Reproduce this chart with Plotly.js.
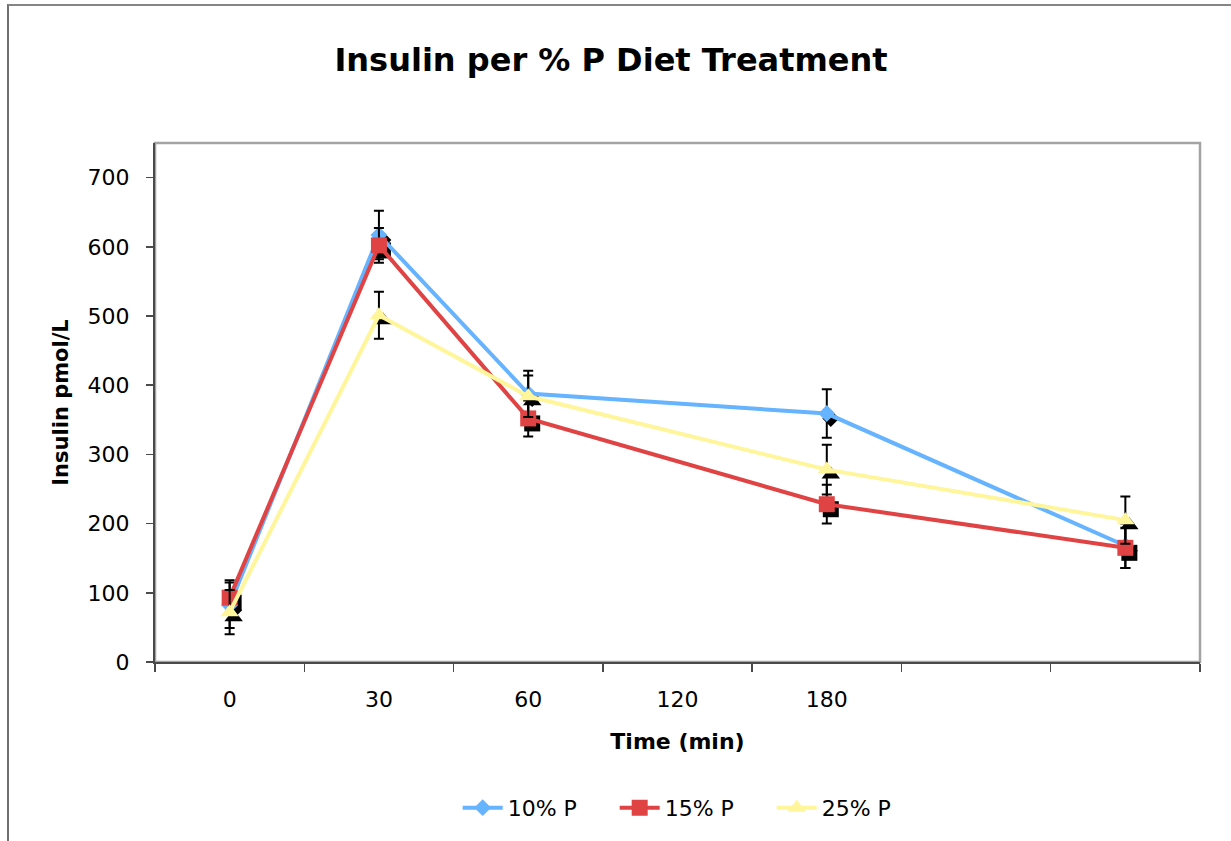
<!DOCTYPE html>
<html>
<head>
<meta charset="utf-8">
<script src="https://cdn.plot.ly/plotly-3.0.1.min.js"></script>
<style>
  html, body { margin: 0; padding: 0; background: #fff; }
  #chart { position: absolute; left: 0; top: 0; width: 1231px; height: 841px; }
  #frame {
    position: absolute; left: 7px; top: 4px; width: 1240px; height: 850px;
    border-top: 2px solid #858585; border-left: 2px solid #707070;
    pointer-events: none; z-index: 2;
  }
</style>
</head>
<body>
<div id="chart"></div>
<div id="frame"></div>
<script>
// Category slots on the time axis and the labels printed under them
const tickLabels = ['0', '30', '60', '120', '180', '', ''];
const slots = [0, 1, 2, 4, 6];

// Mean insulin (pmol/L) per diet group, with error bar half-widths
const p10 = [82, 617, 388, 359, 168];
const p10Err = [33, 35, 33, 35, 32];
const p15 = [93, 602, 352, 228, 165];
const p15Err = [25, 25, 26, 28, 29];
const p25 = [72, 501, 384, 278, 205];
const p25Err = [32, 34, 30, 36, 34];

const seriesNames = ['10% P', '15% P', '25% P'];
const seriesValues = [p10, p15, p25];
const seriesErrors = [p10Err, p15Err, p25Err];
const seriesColors = ['#66b3ff', '#e04343', '#fff59a'];
const seriesSymbols = ['diamond', 'square', 'triangle-up'];
const seriesSizes = [13, 16, 16];

const W = 1231, H = 841;
const margin = { l: 155, r: 31, t: 143, b: 179, pad: 0 };
const plotW = W - margin.l - margin.r;
const plotH = H - margin.t - margin.b;
const yMax = 750;
const xLo = -0.5, xHi = tickLabels.length - 0.5;

// Drop shadow behind the markers: a hidden axis pair shifted a few pixels
const shadowPx = { x: 4, y: 5 };
const sdx = shadowPx.x * (xHi - xLo) / plotW;
const sdy = shadowPx.y * yMax / plotH;

const font = 'DejaVu Sans, Verdana, sans-serif';
const traces = [];

seriesValues.forEach((vals, i) => {
  traces.push({
    x: slots, y: vals, xaxis: 'x', yaxis: 'y',
    type: 'scatter', mode: 'markers', showlegend: false, hoverinfo: 'skip',
    marker: { symbol: seriesSymbols[i], size: seriesSizes[i], color: '#000' }
  });
});

seriesValues.forEach((vals, i) => {
  traces.push({
    x: slots, y: vals, xaxis: 'x2', yaxis: 'y2',
    name: seriesNames[i], type: 'scatter', mode: 'lines+markers',
    line: { color: seriesColors[i], width: 4 },
    marker: { symbol: seriesSymbols[i], size: seriesSizes[i], color: seriesColors[i] },
    error_y: { type: 'data', array: seriesErrors[i], color: '#000', thickness: 2, width: 5 }
  });
});

const boundaryTicks = [];
for (let k = 0; k <= tickLabels.length; k++) boundaryTicks.push(xLo + k);

const layout = {
  width: W, height: H,
  margin: margin,
  paper_bgcolor: '#fff', plot_bgcolor: '#fff',
  font: { family: font, color: '#000', size: 22 },
  title: {
    text: '<b>Insulin per % P Diet Treatment</b>',
    font: { family: font, size: 32, color: '#000' },
    x: 611 / W, xanchor: 'center', xref: 'container',
    y: 1 - 60 / H, yanchor: 'middle', yref: 'container'
  },
  showlegend: true,
  legend: {
    orientation: 'h', x: 0.515, xanchor: 'center', y: -0.281, yanchor: 'middle',
    font: { family: font, size: 22, color: '#000' },
    traceorder: 'normal', itemwidth: 40,
    entrywidth: 102, entrywidthmode: 'pixels'
  },
  xaxis: {
    range: [xLo - sdx, xHi - sdx], visible: false, fixedrange: true
  },
  yaxis: {
    range: [sdy, yMax + sdy], visible: false, fixedrange: true
  },
  xaxis2: {
    overlaying: 'x', side: 'bottom', anchor: 'y2',
    range: [xLo, xHi], showgrid: false, zeroline: false,
    showline: true, linecolor: '#4a4a4a', linewidth: 2,
    tickmode: 'array', tickvals: tickLabels.map((_, k) => k), ticktext: tickLabels,
    ticks: '', ticklabelstandoff: 17,
    tickfont: { family: font, size: 22, color: '#000' },
    minor: { tickmode: 'array', tickvals: boundaryTicks, ticks: 'outside', ticklen: 8, tickcolor: '#4a4a4a', tickwidth: 1.5, showgrid: false },
    title: { text: '<b>Time (min)</b>', font: { family: font, size: 22, color: '#000' }, standoff: 22 }
  },
  yaxis2: {
    overlaying: 'y', side: 'left', anchor: 'x2',
    range: [0, yMax], showgrid: false, zeroline: false,
    showline: true, linecolor: '#4a4a4a', linewidth: 2,
    tickmode: 'linear', tick0: 0, dtick: 100,
    ticks: 'outside', ticklen: 7, tickcolor: '#4a4a4a', tickwidth: 1.5,
    ticklabelstandoff: 12,
    tickfont: { family: font, size: 22, color: '#000' },
    title: { text: '<b>Insulin pmol/L</b>', font: { family: font, size: 21, color: '#000' }, standoff: 13 }
  },
  shapes: [{
    type: 'rect', xref: 'paper', yref: 'paper', x0: 0, x1: 1, y0: 0, y1: 1,
    line: { color: '#a3a3a3', width: 2.5 }, layer: 'below'
  }]
};

Plotly.newPlot('chart', traces, layout, { displayModeBar: false, staticPlot: true });
</script>
</body>
</html>
